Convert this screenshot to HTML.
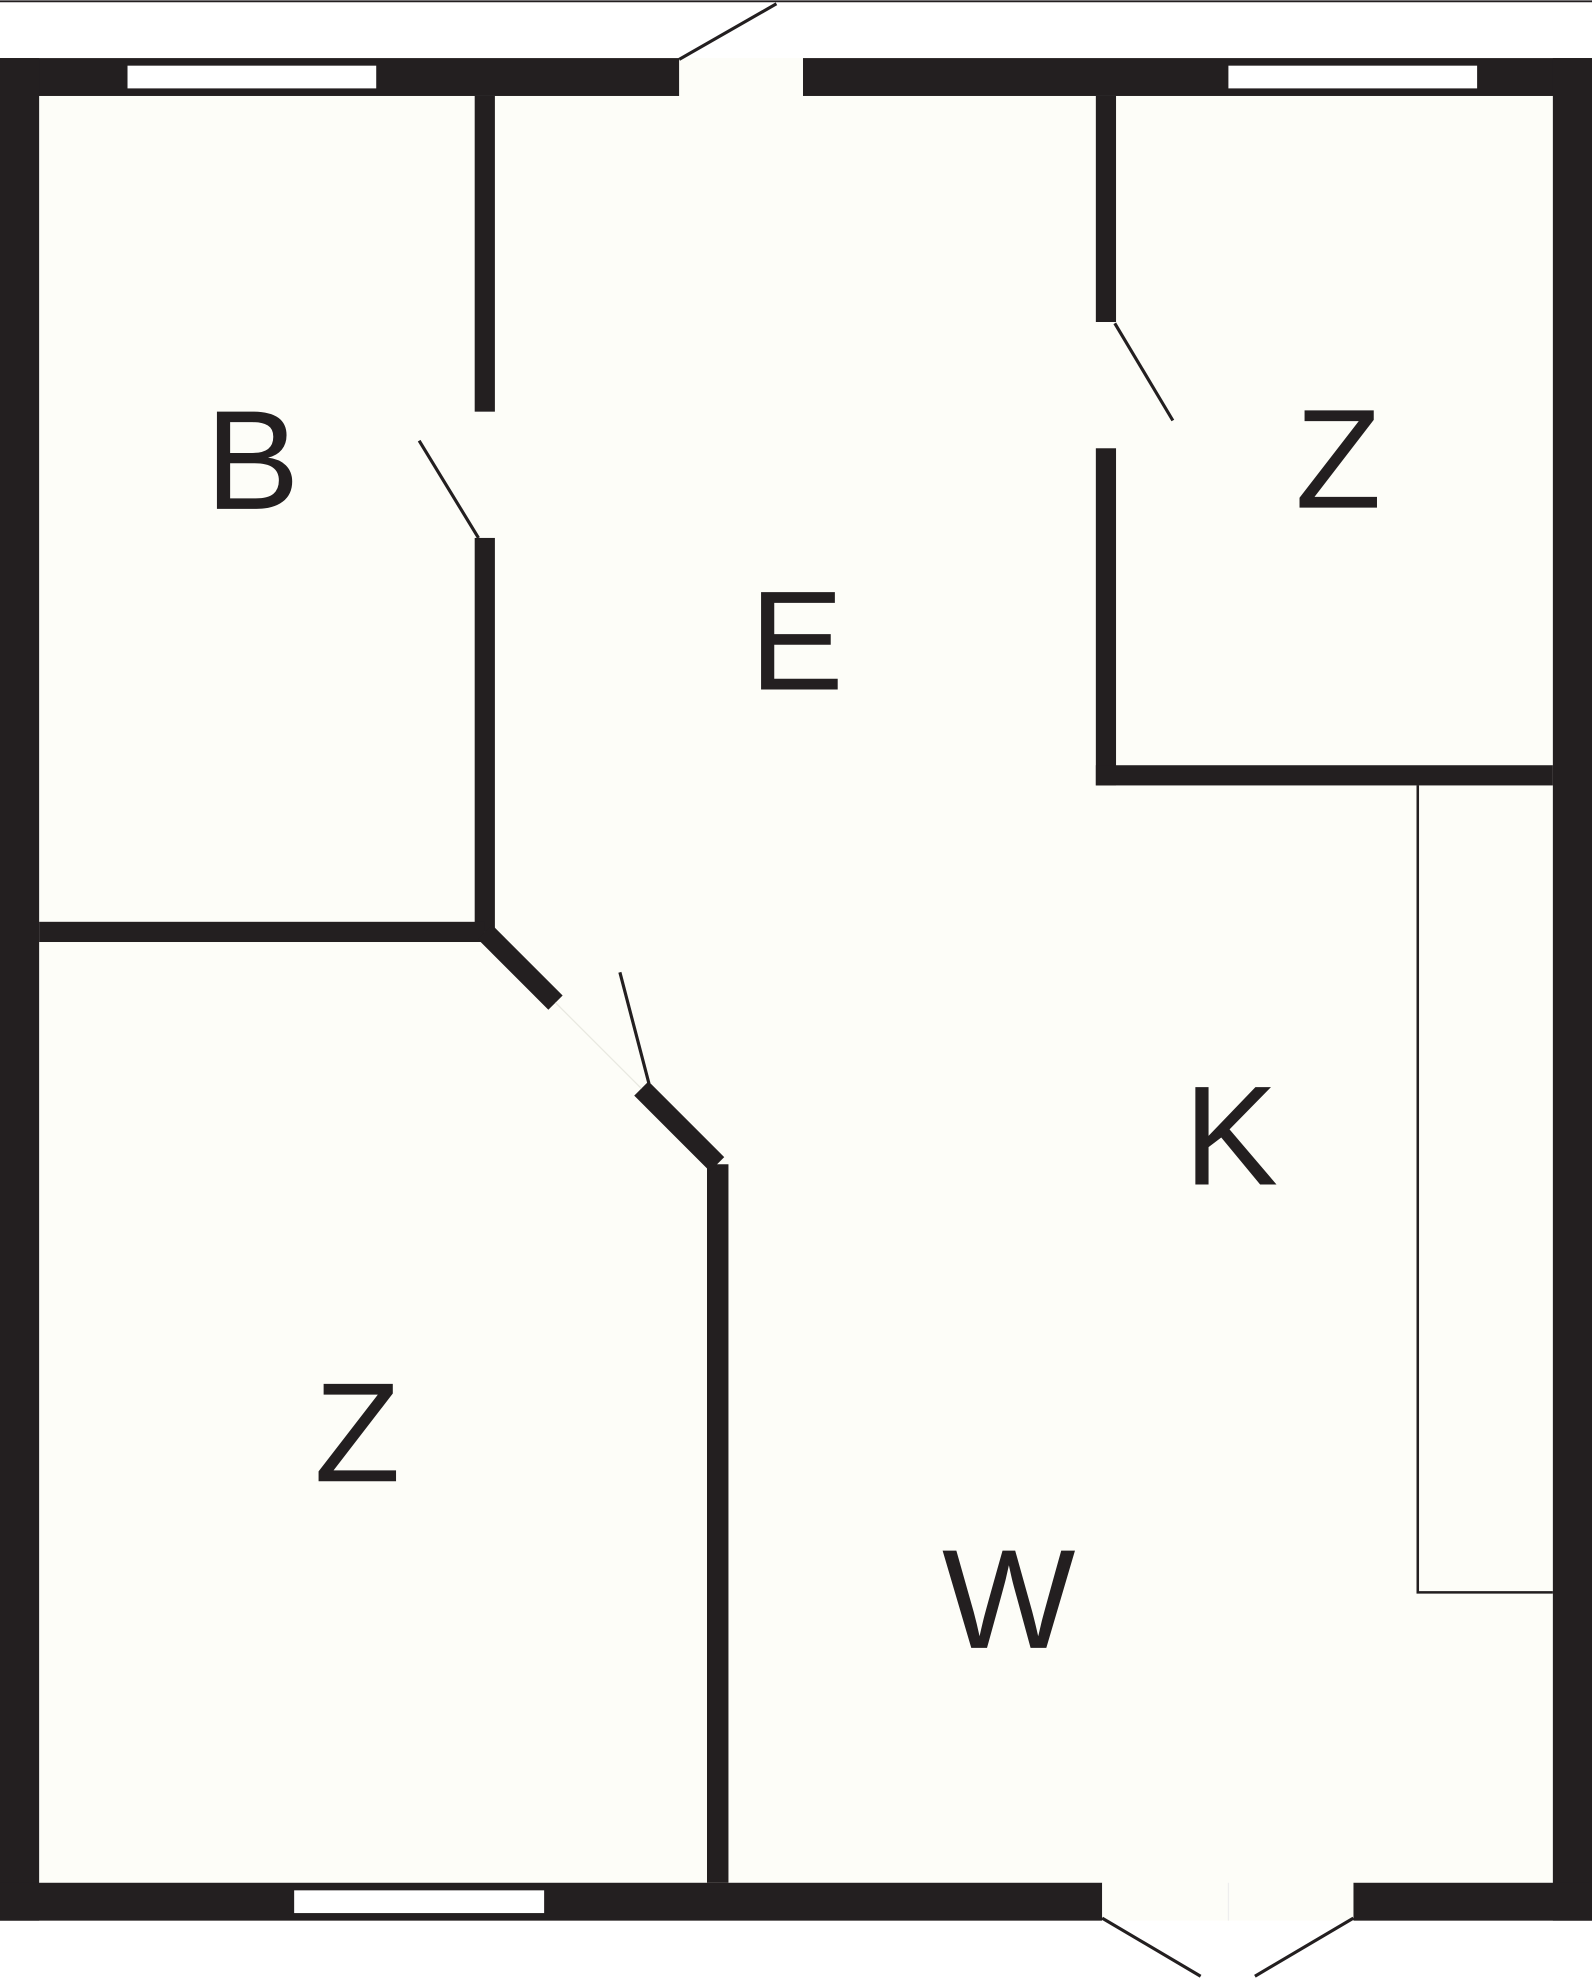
<!DOCTYPE html>
<html><head><meta charset="utf-8"><style>
html,body{margin:0;padding:0;background:#fff;}
svg{display:block;}
text{font-family:"Liberation Sans",sans-serif;font-size:112px;fill:#231f20;text-anchor:middle;}
</style></head><body>
<svg width="1592" height="1980" viewBox="0 0 1261 1568" preserveAspectRatio="none" xmlns="http://www.w3.org/2000/svg">
<rect x="0" y="0" width="1261" height="1568" fill="#ffffff"/>
<line x1="0" y1="1" x2="1261" y2="1" stroke="#231f20" stroke-width="1.5"/>
<!-- floor -->
<rect x="0" y="46" width="1261" height="1475" fill="#fdfdf8"/>
<g fill="#231f20">
<!-- outer walls -->
<rect x="0" y="46" width="538" height="30"/>
<rect x="636" y="46" width="625" height="30"/>
<rect x="0" y="46" width="31" height="1475"/>
<rect x="1230" y="46" width="31" height="1475"/>
<rect x="0" y="1491" width="873" height="30"/>
<rect x="1072" y="1491" width="189" height="30"/>
<!-- B/E wall -->
<rect x="376" y="76" width="16" height="250"/>
<rect x="376" y="426" width="16" height="312"/>
<!-- B/Z horizontal -->
<rect x="31" y="730" width="353" height="16"/>
<!-- vertical Z/W -->
<rect x="560" y="922" width="17" height="569"/>
<!-- top right Z walls -->
<rect x="868" y="76" width="16" height="179"/>
<rect x="868" y="355" width="16" height="267"/>
<rect x="868" y="606" width="362" height="16"/>
</g>
<!-- diagonal walls -->
<line x1="384" y1="738" x2="440" y2="794" stroke="#231f20" stroke-width="16"/>
<line x1="508" y1="862" x2="568" y2="922" stroke="#231f20" stroke-width="16"/>
<line x1="440" y1="794" x2="508" y2="862" stroke="#e8e8e0" stroke-width="1"/>
<!-- windows -->
<rect x="101" y="52" width="197" height="18" fill="#fff"/>
<rect x="973" y="52" width="197" height="18" fill="#fff"/>
<rect x="233" y="1497" width="198" height="18" fill="#fff"/>
<!-- door openings -->
<rect x="538" y="46" width="98" height="30" fill="#fdfdf8"/>
<rect x="873" y="1491" width="199" height="30" fill="#fdfdf8"/>
<line x1="973" y1="1491" x2="973" y2="1521" stroke="#eee" stroke-width="1"/>
<!-- door swings -->
<g stroke="#231f20" stroke-width="2.5" fill="none">
<line x1="538" y1="47" x2="615" y2="3"/>
<line x1="379" y1="426" x2="332" y2="349"/>
<line x1="883" y1="256" x2="929" y2="333"/>
<line x1="514" y1="858" x2="491" y2="770"/>
<line x1="873" y1="1519" x2="951" y2="1565"/>
<line x1="1072" y1="1519" x2="994" y2="1565"/>
<!-- kitchen counter -->
<polyline points="1123,622 1123,1261 1230,1261" stroke-width="2"/>
</g>
<text x="200" y="403">B</text>
<text x="631" y="546">E</text>
<text x="1060" y="402">Z</text>
<text x="975" y="938">K</text>
<text x="283" y="1173">Z</text>
<text x="799" y="1305">W</text>
</svg>
</body></html>
